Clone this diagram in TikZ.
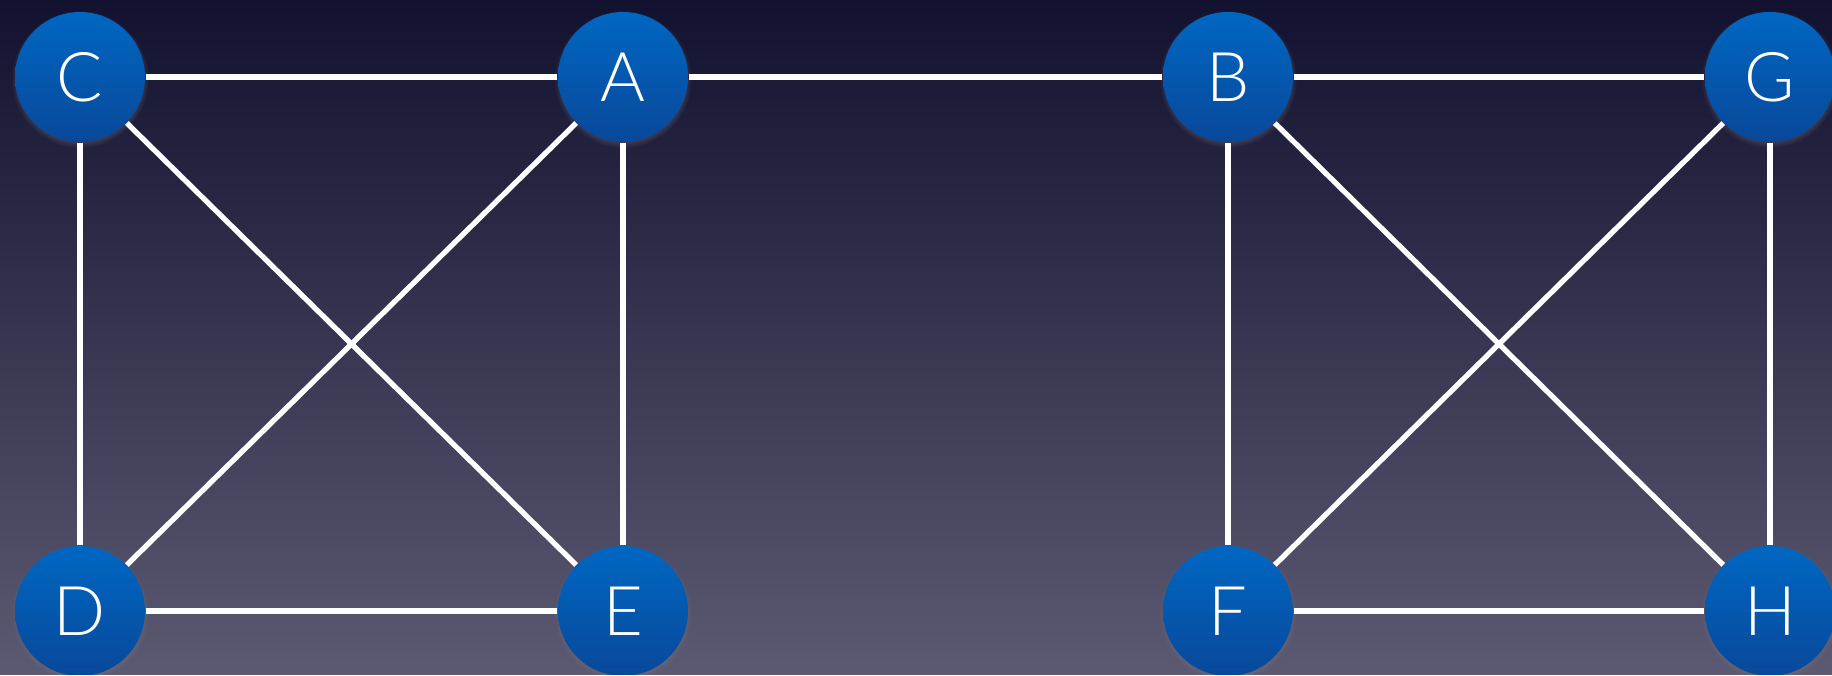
\documentclass[tikz,border=0pt]{standalone}
\usepackage{fontspec}
\setmainfont{Lato}[UprightFont=* Light]
\usetikzlibrary{shadows}
\definecolor{skytop}{HTML}{12112F}
\definecolor{skybottom}{HTML}{5C5972}
\definecolor{nodetop}{HTML}{0067C2}
\definecolor{nodebottom}{HTML}{08489A}
\tikzset{
  vertex/.style={circle, minimum size=1.3cm, inner sep=0pt,
    top color=nodetop, bottom color=nodebottom, text=white,
    font=\fontsize{19.5}{19.5}\selectfont,
    circular drop shadow={shadow xshift=0cm, shadow yshift=-0.02cm,
      shadow scale=1.06, opacity=0.45}},
  link/.style={white, line width=1.5pt}
}
\begin{document}
\begin{tikzpicture}
    % background
    \useasboundingbox (0,0) rectangle (18.32,6.75);
    \clip (0,0) rectangle (18.32,6.75);
    \shade[top color=skytop, bottom color=skybottom] (0,0) rectangle (18.32,6.75);
    % left square
    \node[vertex] (C) at (0.80,5.98) {C};
    \node[vertex] (A) at (6.23,5.98) {A};
    \node[vertex] (D) at (0.80,0.64) {D};
    \node[vertex] (E) at (6.23,0.64) {E};
    % right square
    \node[vertex] (B) at (12.28,5.98) {B};
    \node[vertex] (G) at (17.70,5.98) {G};
    \node[vertex] (F) at (12.28,0.64) {F};
    \node[vertex] (H) at (17.70,0.64) {H};
    % edges
    \draw[link] (C) -- (A);
    \draw[link] (C) -- (D);
    \draw[link] (C) -- (E);
    \draw[link] (A) -- (D);
    \draw[link] (A) -- (E);
    \draw[link] (D) -- (E);
    \draw[link] (A) -- (B);
    \draw[link] (B) -- (G);
    \draw[link] (B) -- (F);
    \draw[link] (B) -- (H);
    \draw[link] (G) -- (F);
    \draw[link] (G) -- (H);
    \draw[link] (F) -- (H);
\end{tikzpicture}
\end{document}
